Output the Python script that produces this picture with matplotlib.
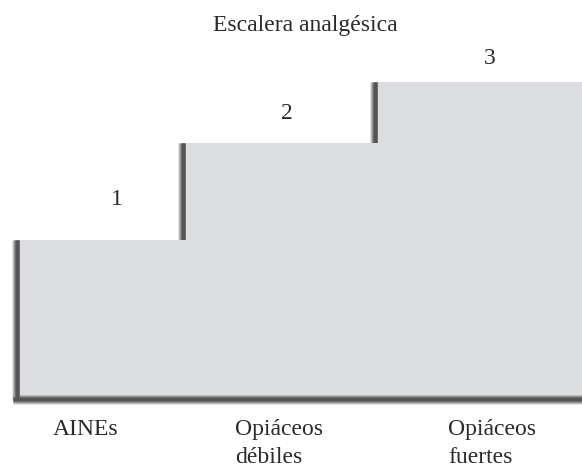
import matplotlib
matplotlib.use("Agg")
import matplotlib.pyplot as plt

# escalones (coordenadas en pixeles de la imagen)
step_x = [20, 186, 378]      # borde izquierdo de cada escalon
step_top = [240, 143, 82]    # altura superior de cada escalon
base_y = 395
right_x = 582

step_nums = ["1", "2", "3"]
num_x = [117, 287, 490]
num_y = [205, 119, 64]

drug_labels = [["AINEs"], ["Opiáceos", "débiles"], ["Opiáceos", "fuertes"]]
label_x = [53, 235, 448]
label_y = 435
line_h = 28

title = "Escalera analgésica"

fill_col = "#dcdde0"
txt_col = "#2a2a2a"
font = "Liberation Serif"

fig = plt.figure(figsize=(5.82, 4.66), dpi=100)
ax = fig.add_axes([0, 0, 1, 1])
ax.set_xlim(0, 582)
ax.set_ylim(466, 0)
ax.axis("off")

# poligono de la escalera
xs, ys = [step_x[0]], [base_y]
for i in range(len(step_x)):
    xs += [step_x[i], step_x[i]]
    ys += [ys[-1], step_top[i]]
    nxt = step_x[i + 1] if i + 1 < len(step_x) else right_x
    xs.append(nxt)
    ys.append(step_top[i])
xs.append(right_x)
ys.append(base_y)
ax.fill(xs, ys, color=fill_col, lw=0, zorder=2)

# sombras difusas (bordes verticales izquierdos y base)
px = 0.72  # pt por pixel
layers = [(11, "#e2e2e2"), (9, "#bdbdbd"), (7, "#939393"), (5, "#6c6c6c"), (3, "#555555")]
lows = [base_y + 4] + step_top[:-1]
for w, c in layers:
    for i in range(len(step_x)):
        ax.plot([step_x[i] - 3.5, step_x[i] - 3.5], [step_top[i], lows[i]],
                color=c, lw=w * px, solid_capstyle="butt", zorder=1)
    ax.plot([step_x[0] - 7, right_x], [base_y + 3.5, base_y + 3.5],
            color=c, lw=w * px, solid_capstyle="butt", zorder=1)

ax.text(305, 31, title, ha="center", va="baseline", fontsize=17,
        family=font, color=txt_col)
for s, x, y in zip(step_nums, num_x, num_y):
    ax.text(x, y, s, ha="center", va="baseline", fontsize=17,
            family=font, color=txt_col)
for lines, x in zip(drug_labels, label_x):
    for k, s in enumerate(lines):
        ax.text(x, label_y + k * line_h, s, ha="left", va="baseline",
                fontsize=17, family=font, color=txt_col)

fig.savefig("out.png", dpi=100)
